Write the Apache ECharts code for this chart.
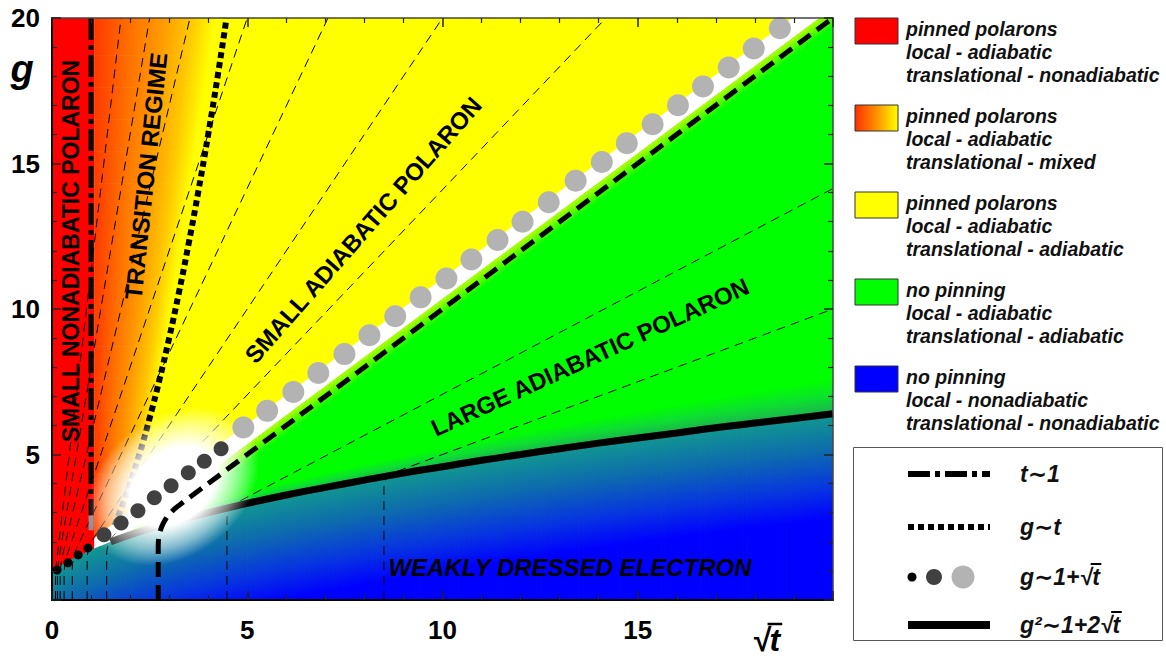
<!DOCTYPE html>
<html><head><meta charset="utf-8">
<script src="https://cdn.jsdelivr.net/npm/echarts@6/dist/echarts.min.js"></script>
<style>html,body{margin:0;padding:0;background:#fff}#c{width:1166px;height:659px}</style>
</head><body><div id="c"></div>
<script>
// ================= DATA =================
const xTickLabels = ['0', '5', '10', '15'];
const yTickLabels = ['5', '10', '15', '20'];

// solid curve  g^2 ~ 1 + 2 sqrt(t)
const curveX = [0, 0.25, 0.5, 1, 1.5, 2, 2.5, 3, 4, 5, 6, 7, 8, 9, 10, 11, 12, 13, 14, 15, 16, 17, 18, 19, 20];
const curveG = [1.0, 1.22, 1.41, 1.73, 2.0, 2.24, 2.45, 2.65, 3.0, 3.32, 3.61, 3.87, 4.12, 4.36, 4.58, 4.8, 5.0, 5.2, 5.39, 5.57, 5.74, 5.92, 6.08, 6.24, 6.4];

// dotted curve  g ~ t
const dottedX = [1.6, 1.8, 2.0, 2.25, 2.5, 2.75, 3.0, 3.25, 3.5, 3.75, 4.0, 4.25, 4.47];
const dottedG = [2.56, 3.24, 4.0, 5.06, 6.25, 7.56, 9.0, 10.56, 12.25, 14.06, 16.0, 18.06, 20.0];

// dash-dot line  t ~ 1
const dashDotX = [1.0, 1.0, 1.0];
const dashDotG = [20, 2.9, 2.4];

// thin dashed contours: slope of the straight part and x of the vertical part
const contourSlope = [11.31, 8, 5.66, 4, 2.83, 2, 1.41, 0.707, 0.5];
const contourX0 = [0.09, 0.14, 0.21, 0.31, 0.52, 0.9, 1.4, 4.48, 8.5];
// thick dashed contour
const thickSlope = [1];
const thickX0 = [2.72];

// circles  g ~ 1 + sqrt(t)
const circleSmallX = [0.13, 0.41, 0.67, 0.92];
const circleSmallG = [1.03, 1.28, 1.55, 1.79];
const circleMidX = [1.33, 1.77, 2.2, 2.62, 3.05, 3.49, 3.9, 4.33];
const circleMidG = [2.24, 2.65, 3.07, 3.51, 3.93, 4.37, 4.77, 5.2];
const circleLargeX = [4.9, 5.51, 6.18, 6.82, 7.49, 8.13, 8.79, 9.44, 10.1, 10.74, 11.41, 12.05, 12.72, 13.41, 14.08, 14.72, 15.38, 16.03, 16.67, 17.33, 17.97, 18.64];
const circleLargeG = [5.93, 6.5, 7.15, 7.8, 8.45, 9.1, 9.75, 10.4, 11.05, 11.7, 12.37, 13.0, 13.67, 14.41, 15.05, 15.7, 16.35, 17.0, 17.65, 18.3, 18.95, 19.65];

const regionLabels = ['SMALL NONADIABATIC POLARON', 'TRANSITION REGIME', 'SMALL ADIABATIC POLARON', 'LARGE ADIABATIC POLARON', 'WEAKLY DRESSED ELECTRON'];
const legendRegionTexts = [
  ['pinned polarons', 'local - adiabatic', 'translational - nonadiabatic'],
  ['pinned polarons', 'local - adiabatic', 'translational - mixed'],
  ['pinned polarons', 'local - adiabatic', 'translational - adiabatic'],
  ['no pinning', 'local - adiabatic', 'translational - adiabatic'],
  ['no pinning', 'local - nonadiabatic', 'translational - nonadiabatic']
];
const legendLineTexts = ['t\u223C1', 'g\u223Ct', 'g\u223C1+\u221At', 'g\u00B2\u223C1+2\u221At'];
const axisNameY = 'g';
const axisNameX = '\u221At';

// ================= STYLE / GEOMETRY CONSTANTS =================
const WB_LO = 0.35, WB_HI = 1.05, TB_LO = -0.3;   // white band / yellow-green band offsets from g = sqrt(t)
const RED_EDGE = 1.08, OR_A = 1.9, OR_B = 0.115;    // orange transition gradient extent
const BLUE_DEPTH = 3.6;
const glowCenter = [3.1, 3.9];
const FONT = '"Liberation Sans","DejaVu Sans",Arial,sans-serif';
const ORANGE_STOPS = [{offset:0,color:'#ff3800'},{offset:0.3,color:'#ff7000'},{offset:0.56,color:'#ff9a00'},{offset:0.8,color:'#ffc800'},{offset:1,color:'#ffff00'}];
const BLUE_STOPS = [{offset:0,color:'#119890'},{offset:0.35,color:'#0e6aae'},{offset:0.7,color:'#0735e0'},{offset:1,color:'#0000ff'}];
const zip = (a, b) => a.map((v, i) => [v, b[i]]);

function cAt(x) {
  if (x <= curveX[0]) return curveG[0];
  for (let i = 1; i < curveX.length; i++) {
    if (x <= curveX[i]) {
      const t = (x - curveX[i - 1]) / (curveX[i] - curveX[i - 1]);
      return curveG[i - 1] + t * (curveG[i] - curveG[i - 1]);
    }
  }
  return curveG[curveG.length - 1];
}
const LG = (x1, y1, x2, y2, stops) => new echarts.graphic.LinearGradient(x1, y1, x2, y2, stops, true);

function bgLayer(params, api) {
  const P = (x, g) => api.coord([x, g]);
  const ch = [];
  const poly = (pts, fill) => ch.push({type: 'polygon', shape: {points: pts}, style: {fill: fill}});
  poly([P(0, 0), P(20, 0), P(20, 20 + WB_LO), P(0, WB_LO)], '#00ff00');
  for (let x = 1.0; x < 20; x += 0.1) {
    const xb = x + 0.1, xm = x + 0.05;
    const a = P(x, x + TB_LO), b = P(xb, xb + TB_LO), c = P(xb, xb + WB_LO), d = P(x, x + WB_LO);
    b[0] += 0.7; c[0] += 0.7;
    poly([a, b, c, d], LG(0, P(xm, xm + WB_LO)[1], 0, P(xm, xm + TB_LO)[1], [{offset:0,color:'#b8ff00'},{offset:0.45,color:'#60ff00'},{offset:1,color:'#00ff00'}]));
  }
  poly([P(0, WB_LO), P(20, 20 + WB_LO), P(20, 20 + WB_HI), P(0, WB_HI)], '#ffffff');
  poly([P(0, 0), P(RED_EDGE, 0), P(RED_EDGE, 20), P(0, 20)], '#ff0000');
  const xr = g => Math.min(OR_A + OR_B * g, g - WB_HI);
  for (let g = 0; g < 20; g += 0.1) {
    const g2 = g + 0.1;
    const r1 = xr(g), r2 = xr(g2);
    if (r1 <= RED_EDGE && r2 <= RED_EDGE) continue;
    const a = P(RED_EDGE, g), b = P(Math.max(r1, RED_EDGE), g), c = P(Math.max(r2, RED_EDGE), g2), d = P(RED_EDGE, g2);
    c[1] -= 0.7; d[1] -= 0.7;
    const xe = OR_A + OR_B * (g + 0.05);
    poly([a, b, c, d], LG(P(RED_EDGE, 0)[0], 0, P(xe, 0)[0], 0, ORANGE_STOPS));
  }
  for (let x = 2.5; x < 20; x += 0.1) {
    const xb = Math.min(20, x + 0.1), xm = x + 0.05;
    const dl = g => 0.1 + 0.055 * g;
    const a = P(x, cAt(x)), b = P(xb, cAt(xb)), c = P(xb, cAt(xb) + dl(xb)), d = P(x, cAt(x) + dl(x));
    b[0] += 0.7; c[0] += 0.7;
    poly([a, b, c, d], LG(0, P(xm, cAt(xm) + dl(xm))[1], 0, P(xm, cAt(xm))[1], [{offset:0,color:'#00ff00'},{offset:0.5,color:'#0ce030'},{offset:1,color:'#1eae52'}]));
  }
  for (let x = 0; x < 20; x += 0.1) {
    const xb = Math.min(20, x + 0.1), xm = x + 0.05;
    const a = P(x, 0), b = P(xb, 0), c = P(xb, cAt(xb)), d = P(x, cAt(x));
    b[0] += 0.7; c[0] += 0.7;
    poly([a, b, c, d], LG(0, P(xm, cAt(xm))[1], 0, P(xm, cAt(xm) - BLUE_DEPTH)[1], BLUE_STOPS));
  }
  return {type: 'group', children: ch};
}

function contourPts(api, s, x0, r) {
  const C = api.coord([x0, s * x0]), P0 = api.coord([x0, 0]);
  const o = api.coord([0, 0]);
  const dx = api.coord([1, 0])[0] - o[0], dy = api.coord([0, s])[1] - o[1];
  const L = Math.hypot(dx, dy), ux = dx / L, uy = dy / L;
  const P1 = [C[0], C[1] + r], P2 = [C[0] + r * ux, C[1] + r * uy];
  const pts = [P0, P1];
  for (let i = 1; i <= 12; i++) {
    const t = i / 12, a = (1 - t) * (1 - t), b = 2 * t * (1 - t), c = t * t;
    pts.push([a * P1[0] + b * C[0] + c * P2[0], a * P1[1] + b * C[1] + c * P2[1]]);
  }
  const xe = s >= 1 ? 20 / s : 20;
  pts.push(api.coord([xe, s * xe]));
  return pts;
}
function contourLayer(slopes, x0s, r, style) {
  return function (params, api) {
    return {type: 'group', children: slopes.map((s, i) => ({
      type: 'polyline', shape: {points: contourPts(api, s, x0s[i], r)},
      style: Object.assign({fill: null}, style)
    }))};
  };
}
function glowLayer(params, api) {
  const c = api.coord(glowCenter);
  return {type: 'circle', x: c[0], y: c[1], rotation: 0.64, scaleX: 1.15, scaleY: 0.85,
    shape: {cx: 0, cy: 0, r: 82},
    style: {fill: new echarts.graphic.RadialGradient(0.5, 0.5, 0.5, [
      {offset: 0, color: 'rgba(255,255,255,1)'}, {offset: 0.5, color: 'rgba(255,255,255,1)'},
      {offset: 0.78, color: 'rgba(255,255,255,0.5)'}, {offset: 1, color: 'rgba(255,255,255,0)'}])}};
}

// ================= GRAPHIC (legend, labels) =================
const mctx = document.createElement('canvas').getContext('2d');
function tw(font, s) { mctx.font = font; return mctx.measureText(s).width; }
const G = [];
function txt(x, y, s, o) {
  o = o || {};
  G.push({type: 'text', z: 100, x: x, y: y, rotation: o.rotation || 0,
    style: {text: s, fill: o.fill || '#000', fontFamily: FONT, fontWeight: 'bold', fontStyle: o.italic ? 'italic' : 'normal',
      fontSize: o.size || 17, align: o.align || 'left', verticalAlign: 'middle'}});
}
function overline(x1, x2, y, w) {
  G.push({type: 'line', z: 100, shape: {x1: x1, y1: y, x2: x2, y2: y}, style: {stroke: '#000', lineWidth: w || 2}});
}
txt(71, 251, regionLabels[0], {size: 23, align: 'center', rotation: Math.PI / 2});
txt(146, 176, regionLabels[1], {size: 24, align: 'center', rotation: 1.466});
txt(363, 230, regionLabels[2], {size: 24, align: 'center', rotation: 0.85});
txt(590, 357, regionLabels[3], {size: 24, align: 'center', rotation: 0.43});
txt(570, 567, regionLabels[4], {size: 24, align: 'center', italic: true});
txt(22, 69, axisNameY, {size: 38, align: 'center', italic: true});
{
  const f = 'italic bold 32px ' + FONT;
  txt(752, 640, axisNameX, {size: 32, italic: true});
  overline(752 + tw(f, '\u221A') - 2, 752 + tw(f, axisNameX) + 2, 624, 2.5);
}
const boxFills = ['#ff0000', new echarts.graphic.LinearGradient(0, 0, 1, 0, [{offset:0,color:'#ff3000'},{offset:0.5,color:'#ff9000'},{offset:1,color:'#ffff00'}]), '#ffff00', '#00ff00', '#0000ff'];
legendRegionTexts.forEach((lines, i) => {
  const top = 18 + i * 87;
  G.push({type: 'rect', z: 100, shape: {x: 855, y: top, width: 43, height: 26}, style: {fill: boxFills[i], stroke: '#333', lineWidth: 1}});
  lines.forEach((s, j) => txt(906, top + 11 + j * 23, s, {size: 19.5, italic: true, fill: '#111'}));
});
G.push({type: 'rect', z: 100, shape: {x: 853.5, y: 447.5, width: 309, height: 193}, style: {fill: 'rgba(0,0,0,0)', stroke: '#555', lineWidth: 1}});
const rowY = [474, 527, 577, 625];
G.push({type: 'line', z: 100, shape: {x1: 908, y1: rowY[0], x2: 990, y2: rowY[0]}, style: {stroke: '#000', lineWidth: 6, lineDash: [22, 5, 5, 5]}});
G.push({type: 'line', z: 100, shape: {x1: 908, y1: rowY[1], x2: 990, y2: rowY[1]}, style: {stroke: '#000', lineWidth: 6, lineDash: [6, 4]}});
G.push({type: 'circle', z: 100, shape: {cx: 912, cy: rowY[2], r: 4.5}, style: {fill: '#000'}});
G.push({type: 'circle', z: 100, shape: {cx: 934, cy: rowY[2], r: 8}, style: {fill: '#404040'}});
G.push({type: 'circle', z: 100, shape: {cx: 963, cy: rowY[2], r: 11.5}, style: {fill: '#b3b3b3'}});
G.push({type: 'line', z: 100, shape: {x1: 908, y1: rowY[3], x2: 990, y2: rowY[3]}, style: {stroke: '#000', lineWidth: 8}});
{
  const f = 'italic bold 23px ' + FONT;
  legendLineTexts.forEach((s, i) => txt(1020, rowY[i], s, {size: 23, italic: true, fill: '#111'}));
  [2, 3].forEach(i => {
    const s = legendLineTexts[i], k = s.indexOf('\u221A');
    overline(1020 + tw(f, s.slice(0, k + 1)) - 1.5, 1020 + tw(f, s) + 1.5, rowY[i] - 13, 2);
  });
}

// ================= CHART =================
const axisCommon = {
  type: 'value', min: 0, max: 20, interval: 5, z: 10,
  splitLine: {show: false},
  axisTick: {show: true, inside: true, length: 9, lineStyle: {color: '#222', width: 1.5}},
  minorTick: {show: true, splitNumber: 5, length: 5, lineStyle: {color: '#222', width: 1.2}},
  minorSplitLine: {show: false}
};
const chart = echarts.init(document.getElementById('c'), null, {renderer: 'svg'});
chart.setOption({
  animation: false,
  grid: {left: 52, right: 333, top: 18, bottom: 59, show: true, backgroundColor: '#ffff00', borderWidth: 0, outerBoundsMode: 'none', containLabel: false},
  xAxis: [
    Object.assign({}, axisCommon, {position: 'bottom',
      axisLine: {show: true, onZero: false, lineStyle: {color: '#000', width: 2}},
      axisLabel: {formatter: v => xTickLabels.indexOf(String(v)) >= 0 ? String(v) : '', fontFamily: FONT, fontWeight: 'bold', fontSize: 26, color: '#000', margin: 17}}),
    Object.assign({}, axisCommon, {position: 'top',
      axisLine: {show: true, onZero: false, lineStyle: {color: '#444', width: 1.5}}, axisLabel: {show: false}})
  ],
  yAxis: [
    Object.assign({}, axisCommon, {position: 'left',
      axisLine: {show: true, onZero: false, lineStyle: {color: '#000', width: 2}},
      axisLabel: {formatter: v => yTickLabels.indexOf(String(v)) >= 0 ? String(v) : '', fontFamily: FONT, fontWeight: 'bold', fontSize: 26, color: '#000', margin: 12}}),
    Object.assign({}, axisCommon, {position: 'right',
      axisLine: {show: true, onZero: false, lineStyle: {color: '#444', width: 1.5}}, axisLabel: {show: false}})
  ],
  series: [
    {type: 'custom', name: 'regions', z: 1, clip: true, silent: true, data: [[0, 0]], renderItem: bgLayer},
    {type: 'custom', name: 'contours', z: 3, clip: true, silent: true, data: [[0, 0]],
      renderItem: contourLayer(contourSlope, contourX0, 12, {stroke: '#000', lineWidth: 1, lineDash: [9, 6]})},
    {type: 'line', name: 'g2~1+2sqrt(t)', z: 3, silent: true, smooth: true, symbol: 'none', clip: true,
      data: zip(curveX, curveG).filter(p => p[0] >= 1.5), lineStyle: {color: '#000', width: 7}},
    {type: 'line', name: 'g~t', z: 3, silent: true, smooth: true, symbol: 'none', clip: true,
      data: zip(dottedX, dottedG), lineStyle: {color: '#000', width: 6, type: [6, 4], cap: 'butt'}},
    {type: 'line', name: 't~1', z: 3, silent: true, symbol: 'none', clip: true,
      data: zip(dashDotX.slice(0, 2), dashDotG.slice(0, 2)), lineStyle: {color: '#000', width: 5, type: [22, 5, 5, 5]}},
    {type: 'line', name: 't~1 fade', z: 3, silent: true, symbol: 'none', clip: true,
      data: zip(dashDotX.slice(1), dashDotG.slice(1)), lineStyle: {color: '#8c8c8c', width: 5}},
    {type: 'custom', name: 'glow', z: 4, clip: true, silent: true, data: [[0, 0]], renderItem: glowLayer},
    {type: 'custom', name: 'thick contour', z: 5, clip: true, silent: true, data: [[0, 0]],
      renderItem: contourLayer(thickSlope, thickX0, 25, {stroke: '#000', lineWidth: 5, lineDash: [15, 8]})},
    {type: 'scatter', name: 'small', z: 6, silent: true, symbolSize: 9, data: zip(circleSmallX, circleSmallG), itemStyle: {color: '#050505', opacity: 1}},
    {type: 'scatter', name: 'mid', z: 6, silent: true, symbolSize: 15, data: zip(circleMidX, circleMidG), itemStyle: {color: '#404040', opacity: 1}},
    {type: 'scatter', name: 'large', z: 6, silent: true, symbolSize: 22, data: zip(circleLargeX, circleLargeG), itemStyle: {color: '#b3b3b3', opacity: 1}}
  ],
  graphic: {elements: G}
});
</script>
</body></html>
